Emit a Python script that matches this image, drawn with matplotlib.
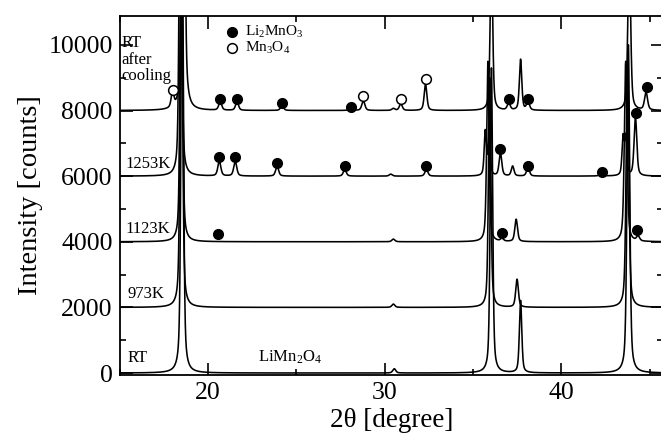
import numpy as np
import matplotlib
matplotlib.use("Agg")
import matplotlib.pyplot as plt
from matplotlib.ticker import MultipleLocator

plt.rcParams['font.family'] = ['Liberation Serif', 'DejaVu Serif']
plt.rcParams['mathtext.fontset'] = 'custom'
plt.rcParams['mathtext.rm'] = 'Liberation Serif'
plt.rcParams['mathtext.it'] = 'Liberation Serif:italic'

# ---------------- data ----------------
offsets = [0, 2000, 4000, 6000, 8000]

# peak positions (2theta), heights (counts above baseline), half widths
rt_pos = [18.55, 30.55, 36.05, 37.7, 43.8]
rt_h = [14000, 130, 9300, 2200, 10000]
rt_w = [0.08, 0.1, 0.08, 0.08, 0.09]

k973_pos = [18.5, 30.5, 35.95, 37.5, 43.75]
k973_h = [12000, 100, 7000, 850, 7500]
k973_w = [0.08, 0.1, 0.08, 0.09, 0.09]

k1123_pos = [18.5, 30.5, 35.85, 36.65, 37.45, 43.65, 44.35]
k1123_h = [10000, 80, 5500, 80, 680, 5500, 150]
k1123_w = [0.08, 0.1, 0.08, 0.1, 0.09, 0.09, 0.1]

k1253_pos = [18.45, 20.65, 21.55, 23.92, 27.75, 30.35, 32.37, 35.7, 35.92,
             36.56, 37.25, 38.12, 42.28, 43.5, 43.65, 44.2]
k1253_h = [12000, 450, 450, 300, 200, 60, 200, 1350, 1450,
           700, 300, 250, 120, 1150, 1150, 1800]
k1253_w = [0.08, 0.1, 0.1, 0.1, 0.1, 0.1, 0.1, 0.07, 0.07,
           0.09, 0.09, 0.1, 0.1, 0.07, 0.07, 0.09]

cool_pos = [18.0, 18.62, 20.7, 21.65, 24.2, 28.1, 28.8, 30.5, 30.92, 32.32,
            36.05, 37.03, 37.7, 38.12, 43.85, 44.8]
cool_h = [450, 20000, 250, 250, 150, 80, 300, 60, 200, 800,
          5000, 200, 1550, 250, 5000, 550]
cool_w = [0.09, 0.075, 0.1, 0.1, 0.1, 0.1, 0.1, 0.1, 0.1, 0.09,
          0.08, 0.1, 0.08, 0.1, 0.09, 0.1]

trace_labels = ['RT', '973K', '1123K', '1253K']

# phase markers (2theta, counts)
filled_x = [20.68, 21.66, 24.2, 28.09, 37.03, 38.12, 44.88,
            20.62, 21.54, 23.92, 27.75, 32.37, 36.56, 38.12, 42.28, 44.22,
            20.58, 36.67, 44.29]
filled_y = [8350, 8350, 8230, 8110, 8350, 8350, 8720,
            6590, 6590, 6400, 6310, 6310, 6830, 6310, 6130, 7930,
            4240, 4270, 4360]
open_x = [18.0, 28.79, 30.92, 32.32]
open_y = [8630, 8450, 8350, 8960]

# ---------------- figure ----------------
W, H = 661, 441
fig = plt.figure(figsize=(W / 100, H / 100), dpi=100)
ax = fig.add_axes([119.5 / W, (H - 375) / H, (663 - 119.5) / W, (375 - 16) / H])

two_theta = np.arange(15.0, 46.0, 0.004)


def profile(pos, hts, wid):
    y = np.zeros_like(two_theta)
    for p, a, g in zip(pos, hts, wid):
        d2 = (two_theta - p) ** 2
        y += a * (0.5 * g * g / (d2 + g * g) + 0.5 * np.exp(-np.log(2) * d2 / (g * g)))
    return y


traces = [(rt_pos, rt_h, rt_w), (k973_pos, k973_h, k973_w),
          (k1123_pos, k1123_h, k1123_w), (k1253_pos, k1253_h, k1253_w),
          (cool_pos, cool_h, cool_w)]

for (p, h, w), off in zip(traces, offsets):
    ax.plot(two_theta, off + profile(p, h, w), color='black', lw=1.15)

ax.plot(filled_x, filled_y, 'o', color='black', ms=7, clip_on=False)
ax.plot(open_x, open_y, 'o', mfc='white', mec='black', mew=1.1, ms=7)

# legend (manual)
ax.plot([21.36], [10396], 'o', color='black', ms=7)
ax.plot([21.36], [9900], 'o', mfc='white', mec='black', mew=1.1, ms=7)
ax.text(22.1, 10396, r'Li$_\mathregular{2}$MnO$_\mathregular{3}$', fontsize=11,
        va='center', ha='left')
ax.text(22.1, 9900, r'Mn$_\mathregular{3}$O$_\mathregular{4}$', fontsize=11,
        va='center', ha='left')

# trace labels
ax.text(15.13, 9940, 'RT', fontsize=12, va='baseline')
ax.text(15.13, 9420, 'after', fontsize=12, va='baseline')
ax.text(15.13, 8930, 'cooling', fontsize=12, va='baseline')
ax.text(15.36, 6250, trace_labels[3], fontsize=12, va='baseline')
ax.text(15.36, 4270, trace_labels[2], fontsize=12, va='baseline')
ax.text(15.47, 2290, trace_labels[1], fontsize=12, va='baseline')
ax.text(15.47, 335, trace_labels[0], fontsize=12, va='baseline')
ax.text(22.83, 335, r'LiMn$_\mathregular{2}$O$_\mathregular{4}$', fontsize=12, va='baseline')

ax.set_xlim(15, 45.76)
ax.set_ylim(-60, 10880)

ax.xaxis.set_major_locator(MultipleLocator(10))
ax.xaxis.set_minor_locator(MultipleLocator(5))
ax.yaxis.set_major_locator(MultipleLocator(2000))
ax.yaxis.set_minor_locator(MultipleLocator(1000))
ax.tick_params(which='both', direction='in', top=True, right=True, width=1.2)
ax.tick_params(which='major', length=9, labelsize=18.5, pad=5)
ax.tick_params(which='minor', length=4.5)
for s in ax.spines.values():
    s.set_linewidth(1.3)

ax.set_xlabel('2θ [degree]', fontsize=19.5, labelpad=3)
ax.set_ylabel('Intensity [counts]', fontsize=20.5, labelpad=4)

fig.savefig('out.png', dpi=100)
